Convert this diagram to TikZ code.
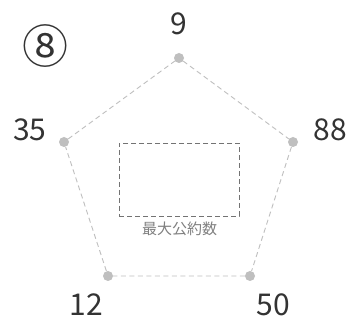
\documentclass[tikz,border=0pt]{standalone}
\usepackage{fontspec}
\setmainfont{Noto Sans CJK JP}
\newfontfamily\numfont{Noto Sans CJK JP}
\begin{document}
\begin{tikzpicture}[x=1pt,y=-1pt,
  dot/.style={circle,fill=black!25,inner sep=0pt,minimum size=10pt},
  edge/.style={draw=black!25,dash pattern=on 5pt off 3.5pt,line width=0.9pt},
  num/.style={text=black!80,font=\numfont\fontsize{30}{30}\selectfont,inner sep=0pt},
  box/.style={draw=black!55,dash pattern=on 5pt off 3pt,line width=0.9pt}]
\useasboundingbox[fill=white] (0,0) rectangle (351,320);
\node[dot] (a) at (179,58) {};
\node[dot] (b) at (293,142) {};
\node[dot] (c) at (250,276) {};
\node[dot] (d) at (108,276) {};
\node[dot] (e) at (64,142) {};
\draw[edge] (a) -- (b) -- (c) -- (d) -- (e) -- (a);
\node[num] (la) at (179,24) {9};
\node[num] (lb) at (330,130) {88};
\node[num] (lc) at (273,305) {50};
\node[num] (ld) at (86,305) {12};
\node[num] (le) at (30,130) {35};
\node[text=black!80,font=\fontsize{46}{46}\selectfont,inner sep=0pt] (circ) at (46,46) {⑧};
\node[box,minimum width=120pt,minimum height=73pt,inner sep=0pt] (r) at (179,179.5) {};
\node[text=black!50,font=\fontsize{15}{15}\selectfont,inner sep=0pt] (lab) at (179.5,229) {最大公約数};
\end{tikzpicture}
\end{document}
